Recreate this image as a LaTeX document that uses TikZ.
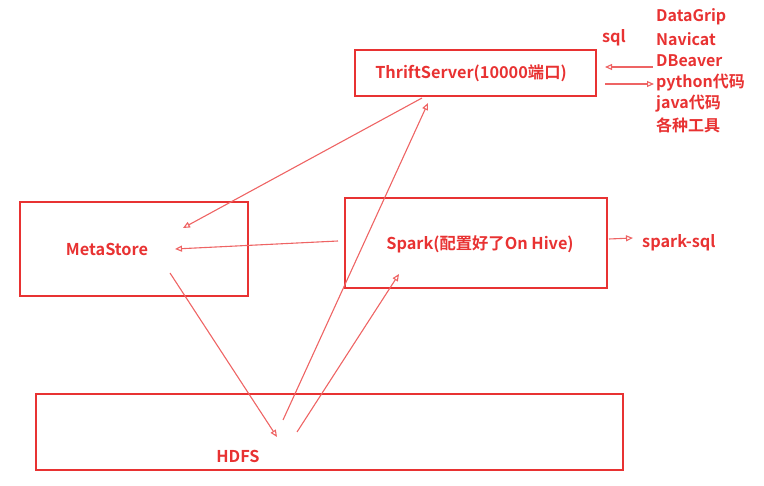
\documentclass[tikz,border=0pt]{standalone}
\usepackage{fontspec}
\setmainfont{Noto Sans CJK SC}[BoldFont={* Bold}]
\newfontfamily\cjkbold{Noto Sans CJK SC Bold}
\usetikzlibrary{arrows.meta}
\definecolor{rd}{RGB}{232,50,50}
\definecolor{rdl}{RGB}{238,100,100}
\begin{document}
\begin{tikzpicture}[x=1pt,y=-1pt,
  box/.style={draw=rd,line width=2.6pt},
  lbl/.style={text=rd,font=\cjkbold\fontsize{16.3}{18}\selectfont,inner sep=0pt},
  lst/.style={text=rd,font=\cjkbold\fontsize{16}{18}\selectfont,inner sep=0pt,anchor=west},
  arr/.style={draw=rdl,line width=1.1pt,-{Triangle[open,length=7pt,width=6pt]}}]
\useasboundingbox (0,0) rectangle (764,486);
% boxes
\draw[box] (355,50) rectangle (596,96);
\draw[box] (20,202) rectangle (248,296);
\draw[box] (345,198) rectangle (607,288);
\draw[box] (36,394) rectangle (623,470);
% labels
\node[lbl] (thrift) at (471,73) {ThriftServer(10000端口)};
\node[lbl] (meta) at (107,249) {MetaStore};
\node[lbl] (spark) at (480,244) {Spark(配置好了On Hive)};
\node[lbl] (hdfs) at (238,456) {HDFS};
\node[lbl] (sql) at (614,38) {sql};
\node[lbl,anchor=west] (sparksql) at (642,243) {spark-sql};
\node[lst] (l1) at (656,17) {DataGrip};
\node[lst] (l2) at (656,39) {Navicat};
\node[lst] (l3) at (656,61) {DBeaver};
\node[lst] (l4) at (656,83) {python代码};
\node[lst] (l5) at (656,104) {java代码};
\node[lst] (l6) at (656,125) {各种工具};
% connector endpoints
\coordinate (a1) at (653,67);
\coordinate (a2) at (605,67);
\coordinate (b1) at (605,84);
\coordinate (b2) at (654,84);
\coordinate (c1) at (338,241);
\coordinate (c2) at (175,249);
\coordinate (d1) at (422,98);
\coordinate (d2) at (183,228);
\coordinate (e1) at (283,420);
\coordinate (e2) at (428,103);
\coordinate (f1) at (297,432);
\coordinate (f2) at (399,274);
\coordinate (g1) at (170,273);
\coordinate (g2) at (277,437);
\coordinate (h1) at (609,239);
\coordinate (h2) at (633,238);
\draw[arr] (a1) -- (a2);
\draw[arr] (b1) -- (b2);
\draw[arr] (c1) -- (c2);
\draw[arr] (d1) -- (d2);
\draw[arr] (e1) -- (e2);
\draw[arr] (f1) -- (f2);
\draw[arr] (g1) -- (g2);
\draw[arr] (h1) -- (h2);
\end{tikzpicture}
\end{document}
